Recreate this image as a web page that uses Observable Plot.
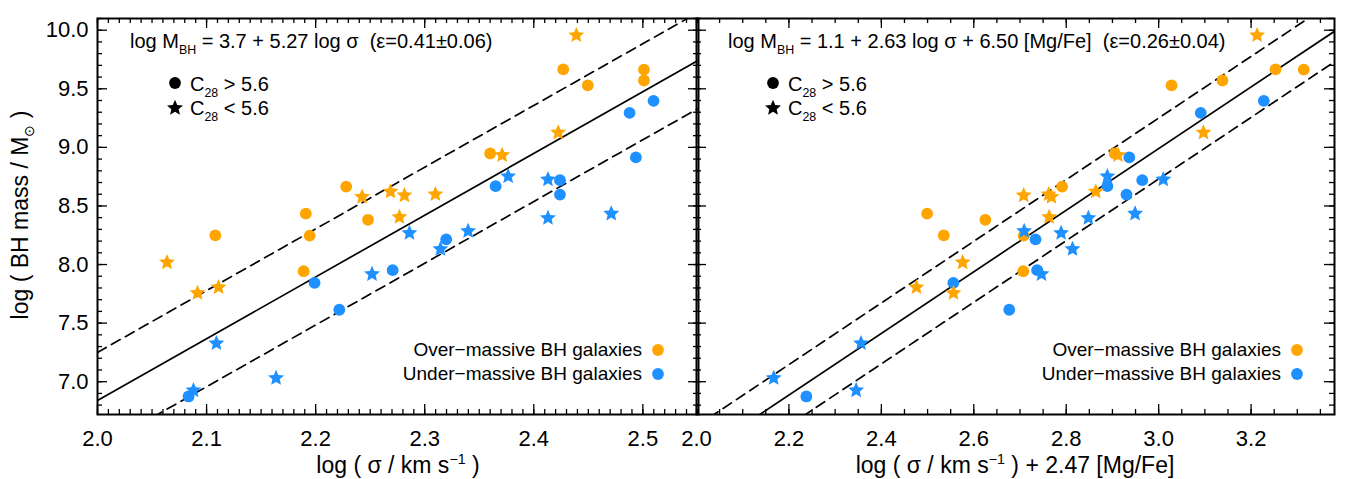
<!DOCTYPE html>
<html>
<head>
<meta charset="utf-8">
<script src="https://cdn.jsdelivr.net/npm/d3@7"></script>
<script src="https://cdn.jsdelivr.net/npm/@observablehq/plot@0.6"></script>
<style>
  body { margin: 0; background: #fff; }
  #wrap { position: relative; width: 1348px; height: 479px; overflow: hidden; background: #fff; }
  #wrap svg { position: absolute; top: 0; overflow: visible; }
</style>
</head>
<body>
<div id="wrap"></div>
<script>
// ---------------- DATA ----------------
// Over-massive BH galaxies (orange)
const overShape = ["circle","circle","circle","circle","circle","circle","circle","circle","circle","circle","circle",
                   "star","star","star","star","star","star","star","star","star","star","star"];
const overLogSigma = [2.427, 2.501, 2.501, 2.4495, 2.360, 2.228, 2.191, 2.248, 2.108, 2.1945, 2.189,
                      2.439, 2.4224, 2.371, 2.2686, 2.3098, 2.2814, 2.2426, 2.2768, 2.0637, 2.111, 2.0917];
const overLogSigmaMgFe = [3.253, 3.314, 3.138, 3.028, 2.905, 2.791, 2.499, 2.625, 2.535, 2.708, 2.707,
                          3.213, 3.097, 2.912, 2.864, 2.762, 2.708, 2.768, 2.763, 2.576, 2.476, 2.556];
const overLogMass = [9.666, 9.663, 9.571, 9.529, 8.948, 8.665, 8.434, 8.382, 8.249, 8.247, 7.943,
                     9.957, 9.126, 8.934, 8.623, 8.600, 8.590, 8.577, 8.405, 8.018, 7.806, 7.757];

// Under-massive BH galaxies (blue)
const underShape = ["circle","circle","circle","circle","circle","circle","circle","circle","circle","circle","circle",
                    "star","star","star","star","star","star","star","star","star","star","star"];
const underLogSigma = [2.5098, 2.4878, 2.4936, 2.424, 2.365, 2.424, 2.3197, 2.2706, 2.199, 2.2217, 2.0835,
                       2.3765, 2.413, 2.471, 2.413, 2.3398, 2.286, 2.3144, 2.2517, 2.109, 2.1637, 2.088];
const underLogSigmaMgFe = [3.2275, 3.091, 2.9364, 2.9645, 2.889, 2.9304, 2.7335, 2.737, 2.5557, 2.6767, 2.2377,
                           2.889, 3.010, 2.949, 2.848, 2.709, 2.789, 2.8136, 2.7465, 2.356, 2.167, 2.3455];
const underLogMass = [9.397, 9.294, 8.914, 8.720, 8.669, 8.597, 8.215, 7.952, 7.843, 7.614, 6.874,
                      8.753, 8.726, 8.434, 8.397, 8.286, 8.269, 8.132, 7.918, 7.328, 7.031, 6.926];

// Fits: intercept, slope, intrinsic scatter
const leftFit = {a: -3.70, b: 5.27, eps: 0.41};
const rightFit = {a: 1.10, b: 2.63, eps: 0.26};

// Axes
const yDomain = [6.72, 10.10];
const yTickLabels = [7.0, 7.5, 8.0, 8.5, 9.0, 9.5, 10.0];
const leftXDomain = [2.0, 2.551];
const leftXTickLabels = [2.0, 2.1, 2.2, 2.3, 2.4, 2.5];
const rightXDomain = [2.0, 3.3805];
const rightXTickLabels = [2.0, 2.2, 2.4, 2.6, 2.8, 3.0, 3.2];

const groups = ["over", "under"];
const groupColors = ["#FFA500", "#1E90FF"];

// ---------------- BUILD ----------------
const rows = [
  ...overLogMass.map((m, i) => ({group: "over", shape: overShape[i], s: overLogSigma[i], smg: overLogSigmaMgFe[i], m})),
  ...underLogMass.map((m, i) => ({group: "under", shape: underShape[i], s: underLogSigma[i], smg: underLogSigmaMgFe[i], m}))
];

const H = 479, mTop = 18, mBottom = 65;
const plotH = H - mTop - mBottom;
const FONT = "'Liberation Sans', Arial, Helvetica, sans-serif";

// a slightly "fatter" five-pointed star, like the IDL plotting symbol
const fatStar = {
  draw(context, size) {
    const R = Math.sqrt(size * 0.8908130915292852);
    const r = R * 0.46;
    for (let i = 0; i < 10; i++) {
      const a = Math.PI * i / 5, rad = i % 2 ? r : R;
      const x = rad * Math.sin(a), y = -rad * Math.cos(a);
      if (i) context.lineTo(x, y); else context.moveTo(x, y);
    }
    context.closePath();
  }
};

function range(a, b, step) {
  const out = [];
  const n = Math.round((b - a) / step);
  for (let i = 0; i <= n; i++) out.push(+(a + i * step).toFixed(6));
  return out;
}

function panel({width, marginLeft, marginRight, xDomain, xKey, xMajor, xMinor, xLabels, fit, yLabels}) {
  const plotW = width - marginLeft - marginRight;
  const fitLine = off => xDomain.map(x => ({x, y: fit.a + fit.b * x + off}));
  const yMajor = range(7.0, 10.0, 0.5);
  const yMinor = range(6.8, 10.1, 0.1).filter(v => v >= yDomain[0] && v <= yDomain[1]);
  const tickStyle = {stroke: "black", strokeWidth: 1.3};
  const marks = [
    Plot.line(fitLine(0), {x: "x", y: "y", stroke: "black", strokeWidth: 1.7, clip: true}),
    Plot.line(fitLine(fit.eps), {x: "x", y: "y", stroke: "black", strokeWidth: 1.7, strokeDasharray: "10,6", clip: true}),
    Plot.line(fitLine(-fit.eps), {x: "x", y: "y", stroke: "black", strokeWidth: 1.7, strokeDasharray: "10,6", clip: true}),
    Plot.dot(rows.filter(d => d.shape === "circle"), {x: xKey, y: "m", fill: "group", r: 5.9, symbol: "circle"}),
    Plot.dot(rows.filter(d => d.shape === "star"), {x: xKey, y: "m", fill: "group", r: 5.0, symbol: fatStar}),
    // inward ticks on all four sides
    Plot.tickX(xMajor, {x: d => d, insetTop: plotH - 10, ...tickStyle}),
    Plot.tickX(xMinor, {x: d => d, insetTop: plotH - 5, ...tickStyle}),
    Plot.tickX(xMajor, {x: d => d, insetBottom: plotH - 10, ...tickStyle}),
    Plot.tickX(xMinor, {x: d => d, insetBottom: plotH - 5, ...tickStyle}),
    Plot.tickY(yMajor, {y: d => d, insetRight: plotW - 10, ...tickStyle}),
    Plot.tickY(yMinor, {y: d => d, insetRight: plotW - 5, ...tickStyle}),
    Plot.tickY(yMajor, {y: d => d, insetLeft: plotW - 10, ...tickStyle}),
    Plot.tickY(yMinor, {y: d => d, insetLeft: plotW - 5, ...tickStyle}),
    Plot.frame({stroke: "black", strokeWidth: 2}),
    Plot.axisX(xLabels, {tickSize: 0, tickPadding: 16, fontSize: 22, tickFormat: d3.format(".1f"), label: null})
  ];
  if (yLabels) marks.push(Plot.axisY(yLabels, {tickSize: 0, tickPadding: 9, fontSize: 22, tickFormat: d3.format(".1f"), label: null}));
  return Plot.plot({
    width, height: H, marginLeft, marginRight, marginTop: mTop, marginBottom: mBottom,
    x: {domain: xDomain},
    y: {domain: yDomain, axis: yLabels ? undefined : null},
    color: {domain: groups, range: groupColors},
    style: {fontFamily: FONT, background: "transparent", color: "black", overflow: "visible"},
    marks
  });
}

// rich text helper for sub/superscripts
function rich(svg, x, y, parts, {size = 20, anchor = "start", rotate = 0} = {}) {
  const t = d3.select(svg).append("text")
    .attr("x", x).attr("y", y)
    .attr("font-size", size).attr("font-family", FONT)
    .attr("text-anchor", anchor).attr("fill", "black")
    .style("white-space", "pre");
  if (rotate) t.attr("transform", `rotate(${rotate},${x},${y})`);
  let shift = 0;
  for (const p of parts) {
    const [str, mode] = typeof p === "string" ? [p, null] : p;
    const target = mode === "sub" ? size * 0.28 : mode === "sup" ? -size * 0.4 : 0;
    const s = t.append("tspan").text(str).attr("dy", target - shift);
    if (mode) s.attr("font-size", size * 0.62);
    shift = target;
  }
  return t;
}

function symbol(svg, x, y, type, r, fill) {
  d3.select(svg).append("path")
    .attr("transform", `translate(${x},${y})`)
    .attr("d", d3.symbol().type(type).size(Math.PI * r * r)())
    .attr("fill", fill);
}

const wrap = document.getElementById("wrap");

// ---- left panel ----
const left = panel({
  width: 700, marginLeft: 97, marginRight: 2,
  xDomain: leftXDomain, xKey: "s",
  xMajor: range(2.0, 2.5, 0.1), xMinor: range(2.0, 2.55, 0.01),
  xLabels: leftXTickLabels, fit: leftFit, yLabels: yTickLabels
});
left.style.left = "0px";
wrap.appendChild(left);

// ---- right panel ----
const rightOffset = 696;
const right = panel({
  width: 1348 - rightOffset, marginLeft: 0, marginRight: 1348 - 1334,
  xDomain: rightXDomain, xKey: "smg",
  xMajor: range(2.0, 3.2, 0.2), xMinor: range(2.0, 3.35, 0.05),
  xLabels: rightXTickLabels, fit: rightFit, yLabels: null
});
right.style.left = rightOffset + "px";
wrap.appendChild(right);

// ---- annotations (left) ----
rich(left, 130, 48, ["log M", ["BH", "sub"], " = 3.7 + 5.27 log σ  (ε=0.41±0.06)"], {size: 20});
symbol(left, 175, 83, d3.symbolCircle, 5.9, "black");
rich(left, 190, 91, ["C", ["28", "sub"], " > 5.6"], {size: 20});
symbol(left, 175, 108, fatStar, 5.0, "black");
rich(left, 190, 115, ["C", ["28", "sub"], " < 5.6"], {size: 20});
rich(left, 642, 356, ["Over−massive BH galaxies"], {size: 19, anchor: "end"});
symbol(left, 658, 350, d3.symbolCircle, 5.9, groupColors[0]);
rich(left, 642, 380, ["Under−massive BH galaxies"], {size: 19, anchor: "end"});
symbol(left, 658, 374, d3.symbolCircle, 5.9, groupColors[1]);
rich(left, 398, 473, ["log ( σ / km s", ["−1", "sup"], " )"], {size: 23, anchor: "middle"});
rich(left, 28, 215, ["log ( BH mass / M", ["⊙", "sub"], " )"], {size: 23, anchor: "middle", rotate: -90});

// ---- annotations (right) ----
const ro = rightOffset;
rich(right, 728 - ro, 48, ["log M", ["BH", "sub"], " = 1.1 + 2.63 log σ + 6.50 [Mg/Fe]  (ε=0.26±0.04)"], {size: 20});
symbol(right, 773 - ro, 83, d3.symbolCircle, 5.9, "black");
rich(right, 788 - ro, 91, ["C", ["28", "sub"], " > 5.6"], {size: 20});
symbol(right, 773 - ro, 108, fatStar, 5.0, "black");
rich(right, 788 - ro, 115, ["C", ["28", "sub"], " < 5.6"], {size: 20});
rich(right, 1281 - ro, 356, ["Over−massive BH galaxies"], {size: 19, anchor: "end"});
symbol(right, 1297 - ro, 350, d3.symbolCircle, 5.9, groupColors[0]);
rich(right, 1281 - ro, 380, ["Under−massive BH galaxies"], {size: 19, anchor: "end"});
symbol(right, 1297 - ro, 374, d3.symbolCircle, 5.9, groupColors[1]);
rich(right, 1015 - ro, 473, ["log ( σ / km s", ["−1", "sup"], " ) + 2.47 [Mg/Fe]"], {size: 23, anchor: "middle"});
</script>
</body>
</html>
